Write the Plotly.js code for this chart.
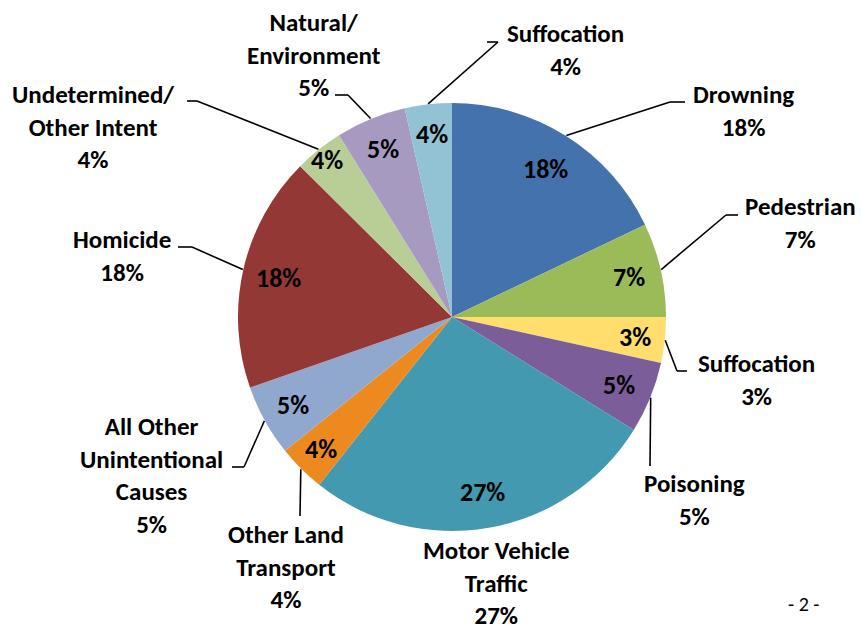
<!DOCTYPE html>
<html>
<head>
<meta charset="utf-8">
<script src="https://cdn.plot.ly/plotly-3.0.1.min.js"></script>
<style>
html,body{margin:0;padding:0;background:#fff;}
#chart{width:861px;height:630px;}
</style>
</head>
<body>
<div id="chart"></div>
<script>
// ---- data (clockwise from 12 o'clock) ----
var categories = ["Drowning", "Pedestrian", "Suffocation", "Poisoning", "Motor Vehicle Traffic",
  "Other Land Transport", "All Other Unintentional Causes", "Homicide",
  "Undetermined/Other Intent", "Natural/Environment", "Suffocation"];
var values = [17.9, 7.1, 3.45, 5.4, 26.8, 3.6, 5.4, 17.8, 3.7, 5.3, 3.55];
var pctLabels = ["18%", "7%", "3%", "5%", "27%", "4%", "5%", "18%", "4%", "5%", "4%"];
var outsideText = ["Drowning", "Pedestrian", "Suffocation", "Poisoning", "Motor Vehicle<br>Traffic",
  "Other Land<br>Transport", "All Other<br>Unintentional<br>Causes", "Homicide",
  "Undetermined/<br>Other Intent", "Natural/<br>Environment", "Suffocation"];

// ---- layout / style config ----
var colors = ["#4472AC", "#9BBB59", "#FFDE6D", "#7B5D9A", "#4299B0", "#EC8A20",
  "#91A8CE", "#943836", "#B9CD96", "#A79AC0", "#92C3D5"];
var W = 861, H = 630, CX = 452, CY = 317, R = 214;
var insideR = [0.82, 0.85, 0.86, 0.84, 0.83, 0.87, 0.85, 0.83, 0.94, 0.85, 0.86];
// outside label block centres (px)
var labelPos = [[743,111],[800,222.5],[756,379.5],[694,500],[496,583],[286,566.5],
  [151,475.5],[122,256],[93,127],[314,55],[565,50]];
// leader line elbow points after the slice edge (px); null = no leader
var leaders = [
  [[670,102],[685,102]],
  [[726,215],[738,215]],
  [[677,371],[687,371]],
  [[650,466]],
  null,
  [[300,516]],
  [[244,467],[232,467]],
  [[192,247],[178,247]],
  [[197,101],[187,101]],
  [[348,95],[335,95]],
  [[498,42],[487,42]]
];

var FONT = "Carlito, Calibri, Lato, sans-serif";
function px(x){ return x / W; }
function py(y){ return 1 - y / H; }

var total = values.reduce(function(a,b){return a+b;}, 0);
var cum = 0, mids = [];
values.forEach(function(v){
  mids.push((cum + v/2) / total * 360);
  cum += v;
});
function pt(angDeg, r){
  var a = angDeg * Math.PI / 180;
  return [CX + r * Math.sin(a), CY - r * Math.cos(a)];
}

var annotations = [], shapes = [];
values.forEach(function(v, i){
  var p = pt(mids[i], R * insideR[i]);
  annotations.push({
    x: px(p[0]), y: py(p[1]), xref: 'paper', yref: 'paper',
    text: '<b>' + pctLabels[i] + '</b>', showarrow: false,
    xanchor: 'center', yanchor: 'middle', borderpad: 0,
    font: {family: FONT, size: 26, color: '#000'}
  });
  annotations.push({
    x: px(labelPos[i][0]), y: py(labelPos[i][1]), xref: 'paper', yref: 'paper',
    text: '<b>' + outsideText[i] + '<br>' + pctLabels[i] + '</b>', showarrow: false,
    xanchor: 'center', yanchor: 'middle', align: 'center', borderpad: 0,
    font: {family: FONT, size: 25, color: '#000'}
  });
  if (leaders[i]) {
    var prev = pt(mids[i], R + 0.5);
    leaders[i].forEach(function(q){
      shapes.push({type: 'line', xref: 'paper', yref: 'paper',
        x0: px(prev[0]), y0: py(prev[1]), x1: px(q[0]), y1: py(q[1]),
        line: {color: '#000', width: 1.6}});
      prev = q;
    });
  }
});
annotations.push({
  x: px(803), y: py(604), xref: 'paper', yref: 'paper', text: '- 2 -',
  showarrow: false, xanchor: 'center', yanchor: 'middle', borderpad: 0,
  font: {family: FONT, size: 20, color: '#000'}
});

var trace = {
  type: 'pie',
  labels: categories.map(function(c, i){ return (i+1) + '. ' + c; }),
  values: values,
  sort: false,
  direction: 'clockwise',
  rotation: 0,
  textinfo: 'none',
  hoverinfo: 'label+percent',
  marker: {colors: colors, line: {width: 0}},
  domain: {x: [px(CX - R), px(CX + R)], y: [py(CY + R), py(CY - R)]},
  showlegend: false
};

Plotly.newPlot('chart', [trace], {
  width: W, height: H,
  margin: {l: 0, r: 0, t: 0, b: 0},
  paper_bgcolor: '#fff',
  showlegend: false,
  annotations: annotations,
  shapes: shapes
}, {displayModeBar: false, staticPlot: true});
</script>
</body>
</html>
